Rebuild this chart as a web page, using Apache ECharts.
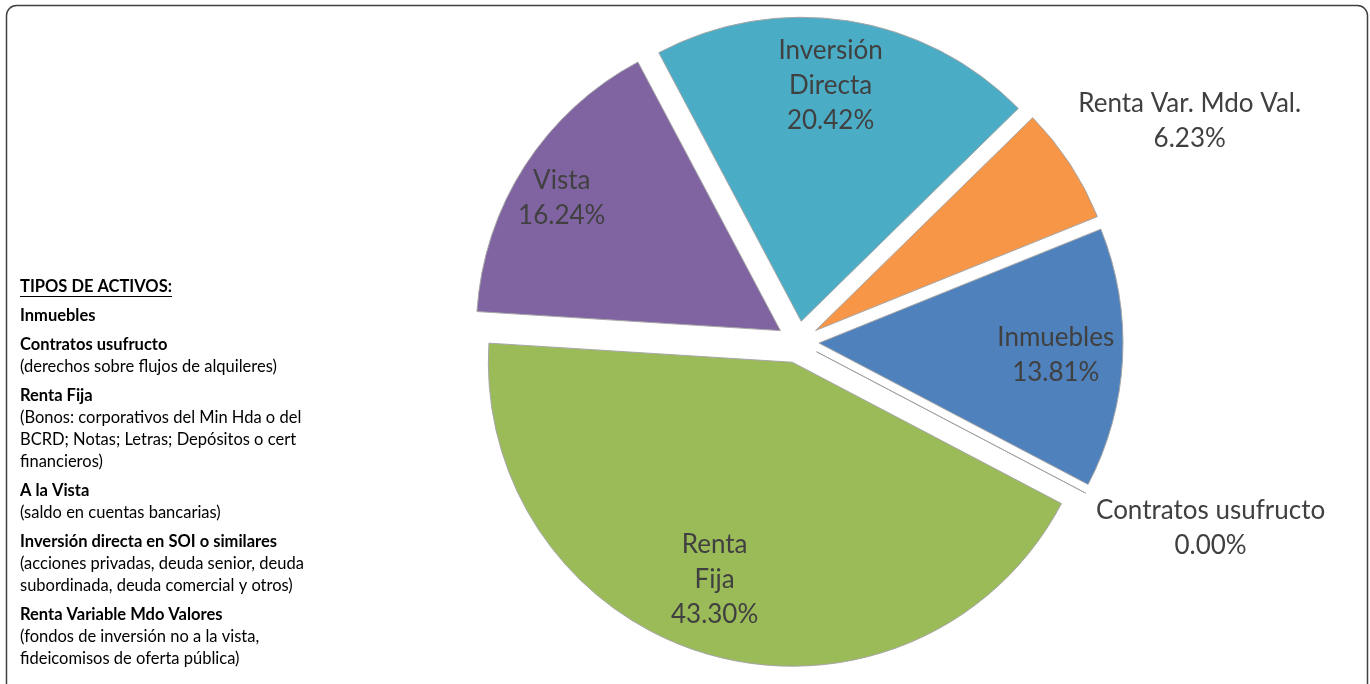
<!DOCTYPE html>
<html>
<head>
<meta charset="utf-8">
<script src="https://cdn.jsdelivr.net/npm/echarts@6/dist/echarts.min.js"></script>
<style>
  html, body { margin: 0; padding: 0; background: #fff; }
  #chart { width: 1370px; height: 684px; }
</style>
</head>
<body>
<div id="chart"></div>
<script>
// slice data, in drawing order (clockwise)
const categories = ['Inmuebles', 'Contratos usufructo', 'Renta\nFija', 'Vista', 'Inversión\nDirecta', 'Renta Var. Mdo Val.']
const shares = [13.81, 0.00, 43.30, 16.24, 20.42, 6.23]

// legend text on the left
const legendHeading = 'TIPOS DE ACTIVOS:'
const assetTypes = ['Inmuebles', 'Contratos usufructo', 'Renta Fija', 'A la Vista', 'Inversión directa en SOI o similares', 'Renta Variable Mdo Valores']
const assetNotes = [
  [],
  ['(derechos sobre flujos de alquileres)'],
  ['(Bonos: corporativos del Min Hda o del', 'BCRD; Notas; Letras; Depósitos o cert', 'financieros)'],
  ['(saldo en cuentas bancarias)'],
  ['(acciones privadas, deuda senior, deuda', 'subordinada, deuda comercial y otros)'],
  ['(fondos de inversión no a la vista,', 'fideicomisos de oferta pública)']
]

// styling
const sliceColors = ['#4F81BD', '#C0504D', '#9BBB59', '#8064A2', '#4BACC6', '#F79646']
const labelReach = [0.78, 1.42, 0.76, 0.84, 0.78, 1.41]
const labelTurn = [0, 3.6, -4, 1.7, 1.7, -4]

const center = [798, 342]
const radius = 304
const explode = 21
const startAngle = 22

const total = shares.reduce((a, b) => a + b, 0)
let acc = 0
const midAngles = shares.map(v => {
  const a0 = startAngle - acc / total * 360
  acc += v
  const a1 = startAngle - acc / total * 360
  return (a0 + a1) / 2
})

const rad = d => d * Math.PI / 180

// label spot: exploded slice apex pushed out along the slice's middle
const labelPos = i => {
  const m = midAngles[i]
  const sx = center[0] + explode * Math.cos(rad(m))
  const sy = center[1] - explode * Math.sin(rad(m))
  const a = m + labelTurn[i]
  const d = labelReach[i] * radius
  return [sx + d * Math.cos(rad(a)), sy - d * Math.sin(rad(a))]
}

const sliceLabels = categories.map((name, i) => {
  const [lx, ly] = labelPos(i)
  return {
    type: 'text', x: lx, y: ly, z: 20, silent: true,
    style: {
      text: name + '\n' + shares[i].toFixed(2) + '%',
      font: '26px Lato', lineHeight: 35, fill: '#404040',
      align: 'center', verticalAlign: 'middle'
    }
  }
})

// legend graphics
const legendFont = '16.5px Lato'
const legendBold = 'bold 16.5px Lato'
const legendItems = []
const measure = document.createElement('canvas').getContext('2d')
measure.font = legendBold
const headW = measure.measureText(legendHeading).width
let y = 287
legendItems.push({ type: 'text', x: 20, y: y, style: { text: legendHeading, font: legendBold, fill: '#000', verticalAlign: 'middle' } })
legendItems.push({ type: 'line', shape: { x1: 20, y1: y + 9.5, x2: 20 + headW, y2: y + 9.5 }, style: { stroke: '#000', lineWidth: 1 } })
assetTypes.forEach((t, i) => {
  y += 29
  legendItems.push({ type: 'text', x: 20, y: y, style: { text: t, font: legendBold, fill: '#000', verticalAlign: 'middle' } })
  assetNotes[i].forEach(n => {
    y += 22
    legendItems.push({ type: 'text', x: 20, y: y, style: { text: n, font: legendFont, fill: '#000', verticalAlign: 'middle' } })
  })
})

const chart = echarts.init(document.getElementById('chart'))

const option = {
  animation: false,
  backgroundColor: '#fff',
  graphic: [
    { type: 'rect', shape: { x: 6.5, y: 5.5, width: 1361, height: 720, r: 10 }, style: { fill: 'none', stroke: '#404040', lineWidth: 1.5 }, z: 10 },
    { type: 'group', children: legendItems },
    { type: 'group', children: sliceLabels }
  ],
  series: [{
    type: 'pie',
    center: center,
    radius: radius,
    startAngle: startAngle,
    clockwise: true,
    avoidLabelOverlap: false,
    selectedMode: 'multiple',
    selectedOffset: explode,
    emphasis: { disabled: true },
    select: { itemStyle: { borderColor: '#A6A6A6', borderWidth: 1 } },
    itemStyle: { borderColor: '#A6A6A6', borderWidth: 1 },
    label: { show: false },
    labelLine: { show: false },
    data: categories.map((name, i) => ({
      name: name,
      value: shares[i],
      selected: true,
      itemStyle: { color: sliceColors[i] }
    }))
  }]
}

chart.setOption(option)
</script>
</body>
</html>
